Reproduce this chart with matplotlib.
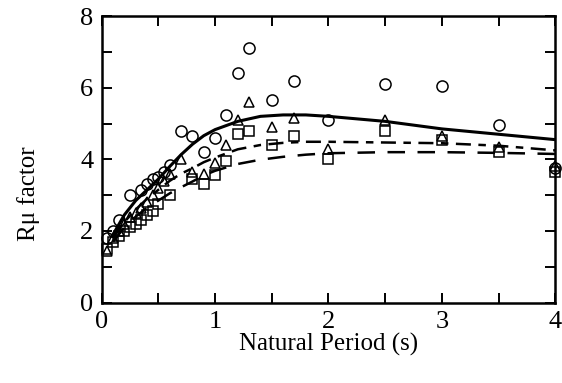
import numpy as np
import matplotlib.pyplot as plt
from matplotlib.ticker import MultipleLocator

plt.rcParams['font.family'] = ['Liberation Serif', 'DejaVu Serif']

# 数据点 (圆, 三角, 方块)
T_circ = [0.05, 0.1, 0.15, 0.25, 0.35, 0.4, 0.45, 0.5, 0.55, 0.6, 0.7, 0.8,
          0.9, 1.0, 1.1, 1.2, 1.3, 1.5, 1.7, 2.0, 2.5, 3.0, 3.5, 4.0]
R_circ = [1.8, 2.0, 2.3, 3.0, 3.15, 3.3, 3.45, 3.5, 3.65, 3.85, 4.8, 4.65,
          4.2, 4.6, 5.25, 6.4, 7.1, 5.65, 6.2, 5.1, 6.1, 6.05, 4.95, 3.75]

T_tri = [0.05, 0.1, 0.15, 0.2, 0.25, 0.3, 0.35, 0.4, 0.45, 0.5, 0.55, 0.6, 0.7,
         0.8, 0.9, 1.0, 1.1, 1.2, 1.3, 1.5, 1.7, 2.0, 2.5, 3.0, 3.5, 4.0]
R_tri = [1.45, 1.8, 2.0, 2.2, 2.4, 2.5, 2.65, 2.8, 3.0, 3.2, 3.4, 3.6, 4.0,
         3.65, 3.6, 3.9, 4.4, 5.1, 5.6, 4.9, 5.15, 4.3, 5.1, 4.65, 4.35, 3.8]

T_sq = [0.05, 0.1, 0.15, 0.2, 0.25, 0.3, 0.35, 0.4, 0.45, 0.5, 0.6, 0.8,
        0.9, 1.0, 1.1, 1.2, 1.3, 1.5, 1.7, 2.0, 2.5, 3.0, 3.5, 4.0]
R_sq = [1.5, 1.7, 1.85, 2.0, 2.1, 2.2, 2.3, 2.45, 2.55, 2.75, 3.0, 3.45,
        3.3, 3.55, 3.95, 4.7, 4.8, 4.4, 4.65, 4.0, 4.8, 4.55, 4.2, 3.65]

# 拟合曲线
T_fit = [0.1, 0.2, 0.3, 0.4, 0.5, 0.6, 0.7, 0.8, 0.9, 1.0, 1.2, 1.4, 1.6,
         1.8, 2.0, 2.5, 3.0, 3.5, 4.0]
R_solid = [1.9, 2.45, 2.85, 3.15, 3.45, 3.8, 4.13, 4.42, 4.66, 4.83, 5.06,
           5.2, 5.24, 5.24, 5.2, 5.06, 4.85, 4.7, 4.55]
R_dash1 = [1.8, 2.25, 2.6, 2.9, 3.15, 3.4, 3.6, 3.75, 3.92, 4.05, 4.28,
           4.4, 4.46, 4.49, 4.49, 4.47, 4.45, 4.38, 4.25]
R_dash2 = [1.7, 2.1, 2.4, 2.65, 2.85, 3.05, 3.22, 3.38, 3.55, 3.68, 3.87,
           3.99, 4.07, 4.13, 4.17, 4.2, 4.2, 4.18, 4.15]

fig = plt.figure(figsize=(5.62, 3.83), dpi=100)
ax = fig.add_axes([0.181, 0.21, 0.807, 0.748])

ax.plot(T_fit, R_solid, '-', color='black', lw=2.2, zorder=3)
ax.plot(T_fit, R_dash1, color='black', lw=1.8, dashes=(6, 3, 3, 3), zorder=3)
ax.plot(T_fit, R_dash2, color='black', lw=1.8, dashes=(7, 5), zorder=3)

mk = dict(linestyle='none', markerfacecolor='none', markeredgecolor='black',
          markeredgewidth=1.1, clip_on=False, zorder=4)
ax.plot(T_circ, R_circ, marker='o', markersize=8, **mk)
ax.plot(T_tri, R_tri, marker='^', markersize=7, **mk)
ax.plot(T_sq, R_sq, marker='s', markersize=7, **mk)

ax.set_xlim(0, 4)
ax.set_ylim(0, 8)
ax.xaxis.set_major_locator(MultipleLocator(1))
ax.xaxis.set_minor_locator(MultipleLocator(0.5))
ax.yaxis.set_major_locator(MultipleLocator(2))
ax.yaxis.set_minor_locator(MultipleLocator(1))
ax.tick_params(which='both', direction='in', top=True, right=True,
               length=7, width=1.4, labelsize=19, pad=6)
for s in ax.spines.values():
    s.set_linewidth(1.8)

ax.set_xlabel('Natural Period (s)', fontsize=18, labelpad=0)
ax.set_ylabel('R\u03bc factor', fontsize=18)
ax.yaxis.set_label_coords(-0.135, 0.38)

fig.savefig('out.png', dpi=100)
